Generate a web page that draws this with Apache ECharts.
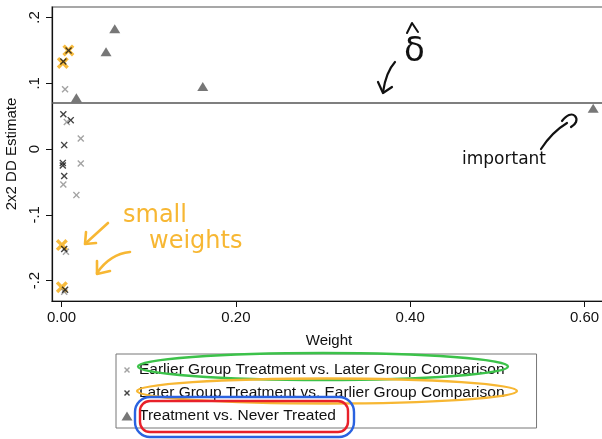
<!DOCTYPE html>
<html>
<head>
<meta charset="utf-8">
<script src="https://cdn.jsdelivr.net/npm/echarts@6/dist/echarts.min.js"></script>
<style>
  html, body { margin: 0; padding: 0; background: #fff; }
  #chart { width: 602px; height: 439px; }
</style>
</head>
<body>
<div id="chart"></div>
<script>
// Goodman-Bacon decomposition: each 2x2 DD estimate against its weight
const seriesNames = [
  'Earlier Group Treatment vs. Later Group Comparison',
  'Later Group Treatment vs. Earlier Group Comparison',
  'Treatment vs. Never Treated'
];

// [weight, estimate]
const earlierVsLater = [
  [0.004, 0.091], [0.006, 0.041], [0.022, 0.016], [0.022, -0.022],
  [0.002, -0.054], [0.017, -0.070], [0.005, -0.156], [0.003, -0.217]
];
const laterVsEarlier = [
  [0.002, 0.133], [0.008, 0.150], [0.002, 0.053], [0.0105, 0.044],
  [0.003, 0.006], [0.0014, -0.021], [0.0014, -0.025], [0.003, -0.041],
  [0.003, -0.152], [0.004, -0.214]
];
const vsNeverTreated = [
  [0.017, 0.078], [0.051, 0.148], [0.061, 0.183], [0.162, 0.095], [0.610, 0.062]
];
// small-weight estimates marked by hand
const smallWeightMarks = [
  [0.0014, 0.131], [0.0078, 0.150], [0.0003, -0.146], [0.0003, -0.210]
];
// overall DD estimate (weighted average)
const ddEstimate = 0.071;

const xTicks = [0, 0.2, 0.4, 0.6];
const yTicks = [-0.2, -0.1, 0, 0.1, 0.2];

const FONT = '"Liberation Sans", Arial, Helvetica, sans-serif';
const INK = '#111';
const PEN_ORANGE = '#f7b733';

const crossPath = 'path://M0,1.4L1.4,0L5,3.6L8.6,0L10,1.4L6.4,5L10,8.6L8.6,10L5,6.4L1.4,10L0,8.6L3.6,5Z';
const thickCross = 'path://M0,2L2,0L5,3L8,0L10,2L7,5L10,8L8,10L5,7L2,10L0,8L3,5Z';
// legend icons padded inside a 12x12 box so they keep their small size
const crossIcon = 'path://M0,0L0,0ZM12,12L12,12ZM3,4L4,3L6,5L8,3L9,4L7,6L9,8L8,9L6,7L4,9L3,8L5,6Z';
const triIcon = 'path://M0,0L0,0ZM12,12L12,12ZM0.5,10.5L6,1.5L11.5,10.5Z';

const chart = echarts.init(document.getElementById('chart'), null, { renderer: 'canvas' });

const yFmt = v => v === 0 ? '0' : (v < 0 ? '-' : '') + String(Math.abs(v)).replace(/^0/, '');

const stroke = (color, w) => ({ stroke: color, lineWidth: w, fill: null, lineCap: 'round', lineJoin: 'round' });

chart.setOption({
  animation: false,
  backgroundColor: '#fff',
  grid: {
    left: 52, top: 7, width: 554, height: 294,
    outerBoundsMode: 'none', containLabel: false,
    show: true, borderColor: '#8a8a8a', borderWidth: 1.5, backgroundColor: 'transparent'
  },
  xAxis: {
    type: 'value', min: -0.011, max: 0.6247,
    axisLine: { show: true, onZero: false, lineStyle: { color: INK, width: 1.2 } },
    axisTick: { show: true, customValues: xTicks, length: 6, lineStyle: { color: INK } },
    axisLabel: { customValues: xTicks, formatter: v => v.toFixed(2), fontSize: 15, color: INK, margin: 9, fontFamily: FONT },
    splitLine: { show: false },
    name: 'Weight', nameLocation: 'middle', nameGap: 32,
    nameTextStyle: { fontSize: 15, color: INK, fontFamily: FONT }
  },
  yAxis: {
    type: 'value', min: -0.231, max: 0.216,
    axisLine: { show: true, onZero: false, lineStyle: { color: INK, width: 1.2 } },
    axisTick: { show: true, customValues: yTicks, length: 6, lineStyle: { color: INK } },
    axisLabel: { customValues: yTicks, formatter: yFmt, rotate: 90, fontSize: 15, color: INK, margin: 10, fontFamily: FONT },
    splitLine: { show: false },
    name: '2x2 DD Estimate', nameLocation: 'middle', nameRotate: 90, nameGap: 33,
    nameTextStyle: { fontSize: 15, color: INK, fontFamily: FONT }
  },
  legend: {
    orient: 'vertical', left: 116, top: 354,
    padding: [8, 32, 4, 5], itemGap: 7, itemWidth: 14, itemHeight: 12,
    borderColor: '#777', borderWidth: 1, selectedMode: false,
    textStyle: { fontSize: 15.5, color: INK, fontFamily: FONT },
    data: [
      { name: seriesNames[0], icon: crossIcon },
      { name: seriesNames[1], icon: crossIcon },
      { name: seriesNames[2], icon: triIcon }
    ]
  },
  series: [
    {
      name: 'small weights', type: 'scatter', data: smallWeightMarks,
      symbol: thickCross, symbolSize: 12, silent: true,
      itemStyle: { color: PEN_ORANGE, opacity: 0.95 }
    },
    {
      name: seriesNames[0], type: 'scatter', data: earlierVsLater,
      symbol: crossPath, symbolSize: 7, itemStyle: { color: '#8c8c8c' }
    },
    {
      name: seriesNames[1], type: 'scatter', data: laterVsEarlier,
      symbol: crossPath, symbolSize: 7, itemStyle: { color: '#151515' }
    },
    {
      name: seriesNames[2], type: 'scatter', data: vsNeverTreated,
      symbol: 'triangle', symbolSize: [11, 9], itemStyle: { color: '#555' },
      markLine: {
        silent: true, symbol: 'none', label: { show: false },
        lineStyle: { color: '#555', width: 1.6, type: 'solid' },
        data: [{ yAxis: ddEstimate }]
      }
    }
  ],
  graphic: [
    // delta-hat label for the overall estimate line
    { type: 'text', x: 404, y: 35, style: { text: 'δ', font: '34px "DejaVu Sans"', fill: INK } },
    { type: 'polyline', shape: { points: [[407, 33], [412, 23], [418, 32]] }, style: stroke(INK, 2) },
    { type: 'bezierCurve', shape: { x1: 395, y1: 62, cpx1: 386, cpy1: 72, x2: 383, y2: 92 }, style: stroke(INK, 2.2) },
    { type: 'polyline', shape: { points: [[378, 82], [383, 93], [392, 87]] }, style: stroke(INK, 2.2) },
    // note on the heavily weighted estimate
    { type: 'text', x: 462, y: 151, style: { text: 'important', font: '17px "DejaVu Sans"', fill: INK } },
    { type: 'bezierCurve', shape: { x1: 541, y1: 149, cpx1: 552, cpy1: 132, x2: 567, y2: 123 }, style: stroke(INK, 2.2) },
    { type: 'polyline', shape: { points: [[562, 121], [569, 115], [575, 116], [576, 122], [571, 127]], smooth: 0.4 }, style: stroke(INK, 2.2) },
    // small weights
    { type: 'text', x: 123, y: 204, style: { text: 'small', font: '24px "DejaVu Sans"', fill: PEN_ORANGE } },
    { type: 'text', x: 149, y: 230, style: { text: 'weights', font: '24px "DejaVu Sans"', fill: PEN_ORANGE } },
    { type: 'line', shape: { x1: 108, y1: 223, x2: 86, y2: 243 }, style: stroke(PEN_ORANGE, 2.6) },
    { type: 'polyline', shape: { points: [[86, 232], [85, 244], [96, 243]] }, style: stroke(PEN_ORANGE, 2.6) },
    { type: 'bezierCurve', shape: { x1: 130, y1: 252, cpx1: 110, cpy1: 254, x2: 97, y2: 273 }, style: stroke(PEN_ORANGE, 2.6) },
    { type: 'polyline', shape: { points: [[97, 261], [97, 274], [110, 271]] }, style: stroke(PEN_ORANGE, 2.6) },
    // circled legend entries
    { type: 'ellipse', shape: { cx: 323, cy: 366.5, rx: 185, ry: 13.5 }, style: stroke('#3cc24a', 2.4), z: 200 },
    { type: 'ellipse', shape: { cx: 327, cy: 391, rx: 190, ry: 12.5 }, style: stroke(PEN_ORANGE, 2.4), z: 200 },
    { type: 'rect', shape: { x: 140, y: 401, width: 208, height: 31, r: 10 }, style: stroke('#e8212a', 2.4), z: 200 },
    { type: 'rect', shape: { x: 135, y: 397, width: 219, height: 40, r: 15 }, style: stroke('#2a62e0', 2.4), z: 200 }
  ]
});
</script>
</body>
</html>
